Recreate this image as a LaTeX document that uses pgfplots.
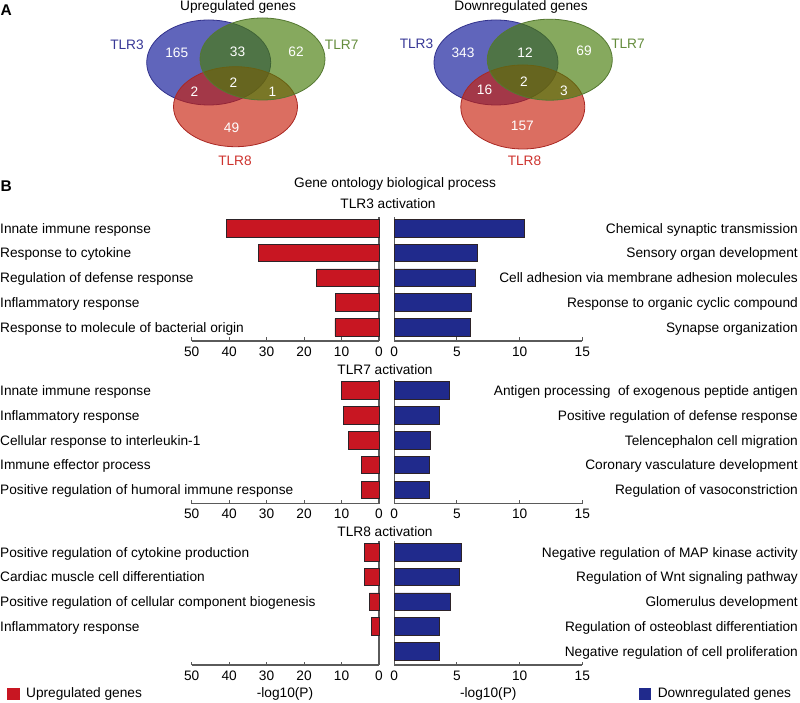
\documentclass[border=0pt]{standalone}
\usepackage{pgfplots}
\pgfplotsset{compat=1.18}
\usepackage{fontspec}
\setmainfont{Liberation Sans}
\definecolor{barred}{RGB}{200,22,34}
\definecolor{barblue}{RGB}{32,42,140}
\definecolor{baredge}{RGB}{45,35,40}
\definecolor{axisgray}{RGB}{90,90,90}
\definecolor{vblue}{RGB}{10,18,150}
\definecolor{vgreen}{RGB}{71,125,10}
\definecolor{vred}{RGB}{200,32,12}
\definecolor{eblue}{RGB}{50,50,140}
\definecolor{egreen}{RGB}{85,120,50}
\definecolor{ered}{RGB}{170,40,35}
\definecolor{tblue}{RGB}{55,55,150}
\definecolor{tgreen}{RGB}{100,140,60}
\definecolor{tred}{RGB}{205,50,45}
\newcommand\fs{\fontsize{13.7bp}{16bp}\selectfont}
\tikzset{
  llab/.style={font=\fs, inner sep=0pt, anchor=base west, yshift=-4.9bp, xshift=-191.7bp},
  rlab/.style={font=\fs, inner sep=0pt, anchor=base east, yshift=-4.9bp, xshift=215.7bp},
}
\pgfplotsset{
  gobase/.style={
    xbar, scale only axis, height=124bp,
    ymin=0.45, ymax=5.45,
    ytick=\empty, bar width=0.71, clip=false,
    axis x line*=bottom,
    tick align=inside, major tick length=3.5bp,
    axis line style={draw=axisgray, line width=1.1bp},
    every tick/.style={draw=axisgray, line width=1bp},
    xticklabel style={font=\fs, inner sep=0pt, yshift=-5.5bp},
    /pgf/number format/assume math mode=true,
  },
  goleft/.style={gobase, width=187.3bp, x dir=reverse, xmin=0, xmax=50, xtick={0,10,...,50}, axis y line*=right},
  goright/.style={gobase, width=188bp, xmin=0, xmax=15, xtick={0,5,10,15}, axis y line*=left},
  upbar/.style={fill=barred, draw=baredge, line width=0.9bp},
  downbar/.style={fill=barblue, draw=baredge, line width=0.9bp},
}
\begin{document}
\fs
\begin{tikzpicture}
% ---------- Panel A: Venn diagrams ----------
\begin{axis}[at={(0bp,0bp)}, anchor=north west, scale only axis, width=800bp, height=703bp,
  xmin=0, xmax=800, ymin=-703, ymax=0, hide axis, clip=false]
% upregulated
\path[fill=vblue, fill opacity=0.65, draw=eblue, line width=0.8bp] (axis cs:208.7,-62.5) ellipse [x radius=62bp, y radius=42.5bp];
\path[fill=vred, fill opacity=0.65, draw=ered, line width=0.8bp] (axis cs:235.5,-106.7) ellipse [x radius=62bp, y radius=40bp];
\path[fill=vgreen, fill opacity=0.66, draw=egreen, line width=0.8bp] (axis cs:262.5,-59) ellipse [x radius=62.5bp, y radius=41bp];
% downregulated
\path[fill=vblue, fill opacity=0.65, draw=eblue, line width=0.8bp] (axis cs:496,-62.5) ellipse [x radius=62bp, y radius=42.5bp];
\path[fill=vred, fill opacity=0.65, draw=ered, line width=0.8bp] (axis cs:522.8,-107) ellipse [x radius=62bp, y radius=42bp];
\path[fill=vgreen, fill opacity=0.66, draw=egreen, line width=0.8bp] (axis cs:549.8,-59.7) ellipse [x radius=62.5bp, y radius=40.5bp];
\end{axis}
% Venn texts
\begin{scope}[every node/.style={font=\fs, inner sep=0pt, anchor=base}]
\node[anchor=base west, font=\fontsize{15.5bp}{18bp}\selectfont\bfseries] at (0.5bp,-15bp) {A};
\node at (238bp,-10bp) {Upregulated genes};
\node at (521bp,-10bp) {Downregulated genes};
\node[text=tblue] at (127bp,-49bp) {TLR3};
\node[text=tgreen] at (341.7bp,-49bp) {TLR7};
\node[text=tred] at (235bp,-165bp) {TLR8};
\node[text=tblue] at (416.5bp,-48bp) {TLR3};
\node[text=tgreen] at (628bp,-48bp) {TLR7};
\node[text=tred] at (524.5bp,-165bp) {TLR8};
\node[text=white] at (176.7bp,-57.5bp) {165};
\node[text=white] at (237.5bp,-56.5bp) {33};
\node[text=white] at (296bp,-56.5bp) {62};
\node[text=white] at (194.5bp,-96.7bp) {2};
\node[text=white] at (233.5bp,-87.5bp) {2};
\node[text=white] at (272.5bp,-96.7bp) {1};
\node[text=white] at (231.5bp,-132.7bp) {49};
\node[text=white] at (463bp,-57.3bp) {343};
\node[text=white] at (525bp,-57bp) {12};
\node[text=white] at (584bp,-55.5bp) {69};
\node[text=white] at (484.5bp,-94bp) {16};
\node[text=white] at (524bp,-86.7bp) {2};
\node[text=white] at (564bp,-95bp) {3};
\node[text=white] at (522.4bp,-130.7bp) {157};
% Panel B texts
\node[anchor=base west, font=\fontsize{15.5bp}{18bp}\selectfont\bfseries] at (0.5bp,-191.5bp) {B};
\node at (395bp,-187.7bp) {Gene ontology biological process};
\node at (388bp,-208.3bp) {TLR3 activation};
\node at (385bp,-374.3bp) {TLR7 activation};
\node at (385bp,-536.7bp) {TLR8 activation};
\node at (285bp,-697.5bp) {-log10(P)};
\node at (488.3bp,-697.5bp) {-log10(P)};
\end{scope}

% ---------- TLR3 ----------
\begin{axis}[goleft, at={(191.7bp,-217bp)}, anchor=north west]
\addplot[upbar] coordinates {(40.8,5) (32.2,4) (16.6,3) (11.7,2) (11.75,1)};
\node[llab] at (axis cs:50,5) {Innate immune response};
\node[llab] at (axis cs:50,4) {Response to cytokine};
\node[llab] at (axis cs:50,3) {Regulation of defense response};
\node[llab] at (axis cs:50,2) {Inflammatory response};
\node[llab] at (axis cs:50,1) {Response to molecule of bacterial origin};
\end{axis}
\begin{axis}[goright, at={(394.3bp,-217bp)}, anchor=north west]
\addplot[downbar] coordinates {(10.35,5) (6.62,4) (6.5,3) (6.18,2) (6.04,1)};
\node[rlab] at (axis cs:15,5) {Chemical synaptic transmission};
\node[rlab] at (axis cs:15,4) {Sensory organ development};
\node[rlab] at (axis cs:15,3) {Cell adhesion via membrane adhesion molecules};
\node[rlab] at (axis cs:15,2) {Response to organic cyclic compound};
\node[rlab] at (axis cs:15,1) {Synapse organization};
\end{axis}

% ---------- TLR7 ----------
\begin{axis}[goleft, at={(191.7bp,-379.5bp)}, anchor=north west]
\addplot[upbar] coordinates {(9.96,5) (9.5,4) (8.2,3) (4.6,2) (4.6,1)};
\node[llab] at (axis cs:50,5) {Innate immune response};
\node[llab] at (axis cs:50,4) {Inflammatory response};
\node[llab] at (axis cs:50,3) {Cellular response to interleukin-1};
\node[llab] at (axis cs:50,2) {Immune effector process};
\node[llab] at (axis cs:50,1) {Positive regulation of humoral immune response};
\end{axis}
\begin{axis}[goright, at={(394.3bp,-379.5bp)}, anchor=north west]
\addplot[downbar] coordinates {(4.42,5) (3.62,4) (2.87,3) (2.83,2) (2.83,1)};
\node[rlab] at (axis cs:15,5) {Antigen processing\ \ of exogenous peptide antigen};
\node[rlab] at (axis cs:15,4) {Positive regulation of defense response};
\node[rlab] at (axis cs:15,3) {Telencephalon cell migration};
\node[rlab] at (axis cs:15,2) {Coronary vasculature development};
\node[rlab] at (axis cs:15,1) {Regulation of vasoconstriction};
\end{axis}

% ---------- TLR8 ----------
\begin{axis}[goleft, at={(191.7bp,-541bp)}, anchor=north west,
  legend style={at={(axis description cs:-0.986,-0.234)}, anchor=west, draw=none, fill=none,
    inner sep=0pt, font=\fs, legend cell align=left, nodes={inner sep=0pt}},
  every axis plot post/.append style={legend image code/.code={\fill[barred] (0bp,-5.8bp) rectangle (12bp,5.8bp); \path (18bp,0bp);}}]
\addplot[upbar] coordinates {(3.9,5) (3.9,4) (2.6,3) (1.95,2)};
\addlegendentry{Upregulated genes}
\node[llab] at (axis cs:50,5) {Positive regulation of cytokine production};
\node[llab] at (axis cs:50,4) {Cardiac muscle cell differentiation};
\node[llab] at (axis cs:50,3) {Positive regulation of cellular component biogenesis};
\node[llab] at (axis cs:50,2) {Inflammatory response};
\end{axis}
\begin{axis}[goright, at={(394.3bp,-541bp)}, anchor=north west,
  legend style={at={(axis description cs:1.30,-0.234)}, anchor=west, draw=none, fill=none,
    inner sep=0pt, font=\fs, legend cell align=left, nodes={inner sep=0pt}},
  every axis plot post/.append style={legend image code/.code={\fill[barblue] (0bp,-5.6bp) rectangle (11bp,5.6bp); \path (18bp,0bp);}}]
\addplot[downbar] coordinates {(5.32,5) (5.16,4) (4.5,3) (3.59,2) (3.57,1)};
\addlegendentry{Downregulated genes}
\node[rlab] at (axis cs:15,5) {Negative regulation of MAP kinase activity};
\node[rlab] at (axis cs:15,4) {Regulation of Wnt signaling pathway};
\node[rlab] at (axis cs:15,3) {Glomerulus development};
\node[rlab] at (axis cs:15,2) {Regulation of osteoblast differentiation};
\node[rlab] at (axis cs:15,1) {Negative regulation of cell proliferation};
\end{axis}
\pgfresetboundingbox
\path[use as bounding box] (0bp,0bp) rectangle (800bp,-703bp);
\end{tikzpicture}
\end{document}
